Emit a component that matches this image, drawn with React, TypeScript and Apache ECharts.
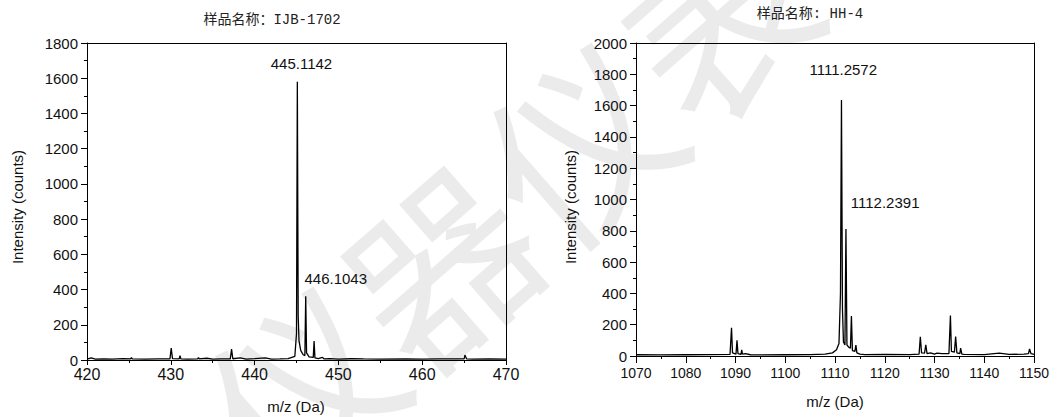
import React, { useEffect, useRef } from "react";
import * as echarts from "echarts";

// ---- Left spectrum: IJB-1702 ----
const leftTitle = "样品名称：IJB-1702";
const leftMz = [
  420, 420.5, 421, 422, 423, 424.3, 425.2, 425.3, 425.4, 427, 428.5, 429.9, 430.05, 430.2, 431, 431.1, 431.2,
  432, 433.2, 433.3, 433.4, 434.3, 435, 436, 437.1, 437.25, 437.4, 438.3, 439, 440, 441.3, 442, 443, 444,
  444.8, 445.0, 445.1, 445.2, 445.3, 445.5, 445.8, 446.0, 446.1, 446.2, 446.5, 447.0, 447.1, 447.2, 447.6,
  448.1, 448.3, 449, 450, 451.5, 453, 455, 458, 460, 462, 465.0, 465.1, 465.3, 466, 468, 470,
];
const leftIntensity = [
  5, 12, 5, 6, 5, 8, 6, 14, 6, 5, 6, 6, 68, 8, 6, 25, 6,
  5, 6, 14, 6, 10, 5, 6, 6, 62, 7, 12, 5, 8, 12, 5, 6, 8,
  20, 150, 1580, 250, 110, 55, 30, 25, 362, 40, 18, 15, 108, 12, 8,
  15, 6, 8, 5, 7, 6, 5, 6, 5, 6, 6, 28, 6, 5, 6, 5,
];
const leftPeakMz = [445.1142, 446.1043];
const leftPeakIntensity = [1580, 362];
const leftPeakText = ["445.1142", "446.1043"];
const leftXTicks = [420, 430, 440, 450, 460, 470];
const leftYTicks = [0, 200, 400, 600, 800, 1000, 1200, 1400, 1600, 1800];

// ---- Right spectrum: HH-4 ----
const rightTitle = "样品名称: HH-4";
const rightMz = [
  1070, 1075, 1080, 1085, 1088.9, 1089.2, 1089.4, 1090.1, 1090.3, 1090.5, 1091.1, 1091.25, 1091.4, 1092, 1093,
  1095, 1100, 1105, 1108, 1109.5, 1110.3, 1110.8, 1111.1, 1111.3, 1111.5, 1111.7, 1112.0, 1112.2, 1112.4,
  1112.8, 1113.1, 1113.3, 1113.5, 1114.0, 1114.2, 1114.4, 1115, 1116, 1120, 1125, 1126.9, 1127.15, 1127.4,
  1128.0, 1128.25, 1128.5, 1129.2, 1130, 1130.5, 1131.5, 1132.9, 1133.2, 1133.4, 1134.0, 1134.25, 1134.5,
  1135.1, 1135.25, 1135.5, 1136, 1140, 1143, 1145, 1148, 1148.9, 1149.1, 1149.4, 1150,
];
const rightIntensity = [
  8, 7, 8, 9, 10, 180, 20, 12, 100, 15, 10, 40, 12, 15, 8,
  7, 8, 9, 12, 20, 40, 80, 400, 1635, 300, 90, 70, 812, 70,
  55, 50, 255, 35, 30, 70, 20, 12, 9, 10, 9, 12, 123, 20,
  18, 72, 15, 20, 12, 18, 15, 15, 258, 30, 25, 125, 20,
  15, 50, 12, 10, 9, 18, 10, 12, 15, 45, 15, 10,
];
const rightPeakMz = [1111.2572, 1112.2391];
const rightPeakIntensity = [1635, 812];
const rightPeakText = ["1111.2572", "1112.2391"];
const rightXTicks = [1070, 1080, 1090, 1100, 1110, 1120, 1130, 1140, 1150];
const rightYTicks = [0, 200, 400, 600, 800, 1000, 1200, 1400, 1600, 1800, 2000];

const xName = "m/z (Da)";
const yName = "Intensity (counts)";
const watermark = "仪器仪表";

const SANS = "'Liberation Sans', Arial, sans-serif";
const TITLE_FONT = "'Liberation Mono', 'Noto Sans CJK SC', monospace";
const plain = (v: number) => String(v);

function bottomAxis(grid: number, ticks: number[], fontSize: number, margin: number, tickLen: number) {
  return {
    type: "value",
    gridIndex: grid,
    position: "bottom",
    min: ticks[0],
    max: ticks[ticks.length - 1],
    interval: ticks[1] - ticks[0],
    axisLine: { show: true, onZero: false, lineStyle: { color: "#000", width: 1 } },
    axisTick: { show: true, inside: false, length: tickLen, lineStyle: { color: "#000" } },
    minorTick: { show: true, splitNumber: 2, length: 3, lineStyle: { color: "#000" } },
    axisLabel: { show: true, color: "#111", fontSize, lineHeight: fontSize, fontFamily: SANS, margin, formatter: plain },
    splitLine: { show: false },
  };
}
function topAxis(grid: number, ticks: number[]) {
  return {
    type: "value",
    gridIndex: grid,
    position: "top",
    min: ticks[0],
    max: ticks[ticks.length - 1],
    interval: ticks[1] - ticks[0],
    axisLine: { show: true, onZero: false, lineStyle: { color: "#000", width: 1 } },
    axisTick: { show: false },
    axisLabel: { show: false },
    splitLine: { show: false },
  };
}
function leftAxis(grid: number, ticks: number[]) {
  return {
    type: "value",
    gridIndex: grid,
    position: "left",
    min: ticks[0],
    max: ticks[ticks.length - 1],
    interval: ticks[1] - ticks[0],
    axisLine: { show: true, onZero: false, lineStyle: { color: "#000", width: 1 } },
    axisTick: { show: true, inside: false, length: 6, lineStyle: { color: "#000" } },
    minorTick: { show: true, splitNumber: 2, length: 3, lineStyle: { color: "#000" } },
    axisLabel: { show: true, color: "#111", fontSize: 15, lineHeight: 12, fontFamily: SANS, margin: 9, formatter: plain },
    splitLine: { show: false },
  };
}
function rightAxis(grid: number, ticks: number[]) {
  return {
    type: "value",
    gridIndex: grid,
    position: "right",
    min: ticks[0],
    max: ticks[ticks.length - 1],
    interval: ticks[1] - ticks[0],
    axisLine: { show: true, onZero: false, lineStyle: { color: "#000", width: 1 } },
    axisTick: { show: false },
    axisLabel: { show: false },
    splitLine: { show: false },
  };
}

function peakMarks(mz: number[], inten: number[], text: string[], offsets: number[][]) {
  return {
    silent: true,
    symbol: "circle",
    symbolSize: 0,
    data: mz.map((m, i) => ({
      coord: [m, inten[i]],
      label: {
        show: true,
        position: "inside",
        offset: offsets[i],
        formatter: text[i],
        color: "#111",
        fontSize: 15,
        fontFamily: SANS,
      },
    })),
  };
}

export default function App() {
  const ref = useRef<HTMLDivElement>(null);
  useEffect(() => {
    document.body.style.margin = "0";
    if (!ref.current) return;
    const chart = echarts.init(ref.current, null, { renderer: "svg" });
    const option: any = {
      animation: false,
      backgroundColor: "#fff",
      grid: [
        { left: 87, top: 43, width: 419, height: 317 },
        { left: 636, top: 43, width: 398, height: 313 },
      ],
      xAxis: [
        bottomAxis(0, leftXTicks, 16, 6, 5),
        topAxis(0, leftXTicks),
        bottomAxis(1, rightXTicks, 14, 10, 7),
        topAxis(1, rightXTicks),
      ],
      yAxis: [leftAxis(0, leftYTicks), rightAxis(0, leftYTicks), leftAxis(1, rightYTicks), rightAxis(1, rightYTicks)],
      series: [
        {
          type: "line",
          xAxisIndex: 0,
          yAxisIndex: 0,
          showSymbol: false,
          lineStyle: { color: "#000", width: 1.3 },
          data: leftMz.map((m, i) => [m, leftIntensity[i]]),
          markPoint: peakMarks(leftPeakMz, leftPeakIntensity, leftPeakText, [
            [4, -18],
            [30, -18],
          ]),
          z: 5,
        },
        {
          type: "line",
          xAxisIndex: 2,
          yAxisIndex: 2,
          showSymbol: false,
          lineStyle: { color: "#000", width: 1.3 },
          data: rightMz.map((m, i) => [m, rightIntensity[i]]),
          markPoint: peakMarks(rightPeakMz, rightPeakIntensity, rightPeakText, [
            [2, -31],
            [39, -26],
          ]),
          z: 5,
        },
      ],
      graphic: [
        {
          type: "text",
          x: 505,
          y: 200,
          rotation: 0.72,
          z: -100,
          silent: true,
          style: {
            text: watermark,
            fill: "#ebebeb",
            font: "normal 185px 'Noto Sans CJK SC', sans-serif",
            textAlign: "center",
            textVerticalAlign: "middle",
          },
        },
        {
          type: "text",
          x: 272,
          y: 20,
          z: 100,
          style: { text: leftTitle, fill: "#222", font: "14px " + TITLE_FONT, textAlign: "center", textVerticalAlign: "middle" },
        },
        {
          type: "text",
          x: 810,
          y: 14,
          z: 100,
          style: { text: rightTitle, fill: "#222", font: "14px " + TITLE_FONT, textAlign: "center", textVerticalAlign: "middle" },
        },
        {
          type: "text",
          x: 17,
          y: 207,
          rotation: Math.PI / 2,
          z: 100,
          style: { text: yName, fill: "#111", font: "15px " + SANS, textAlign: "center", textVerticalAlign: "middle" },
        },
        {
          type: "text",
          x: 570,
          y: 207,
          rotation: Math.PI / 2,
          z: 100,
          style: { text: yName, fill: "#111", font: "15px " + SANS, textAlign: "center", textVerticalAlign: "middle" },
        },
        {
          type: "text",
          x: 296,
          y: 406,
          z: 100,
          style: { text: xName, fill: "#111", font: "15px " + SANS, textAlign: "center", textVerticalAlign: "middle" },
        },
        {
          type: "text",
          x: 835,
          y: 401,
          z: 100,
          style: { text: xName, fill: "#111", font: "15px " + SANS, textAlign: "center", textVerticalAlign: "middle" },
        },
      ],
    };
    chart.setOption(option);
    return () => chart.dispose();
  }, []);
  return <div ref={ref} style={{ width: 1062, height: 417 }} />;
}
